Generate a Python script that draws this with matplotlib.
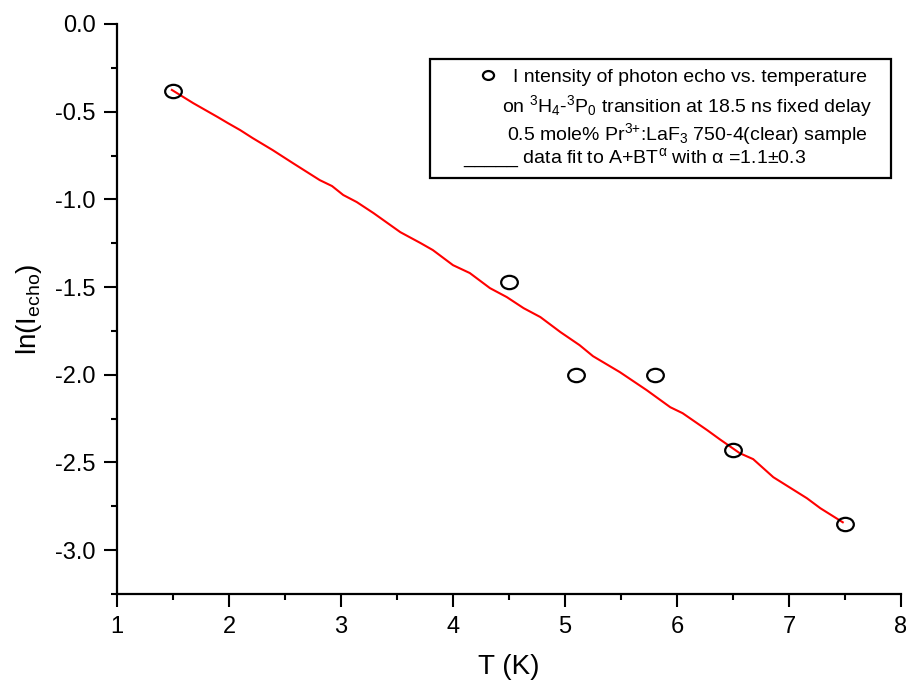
import matplotlib
matplotlib.use("Agg")
import matplotlib.pyplot as plt
from matplotlib.path import Path
from matplotlib.transforms import Affine2D
from matplotlib.ticker import MultipleLocator
from matplotlib.patches import Rectangle

plt.rcParams['font.family'] = ['Liberation Sans', 'DejaVu Sans']
plt.rcParams['mathtext.fontset'] = 'custom'
plt.rcParams['mathtext.rm'] = 'Liberation Sans'
plt.rcParams['mathtext.it'] = 'Liberation Sans:italic'
plt.rcParams['mathtext.bf'] = 'Liberation Sans:bold'

# measured data
T_data = [1.5, 4.5, 5.1, 5.8, 6.5, 7.5]
ln_echo = [-0.38, -1.47, -2.00, -2.00, -2.43, -2.85]

# fit curve
T_fit = [1.49, 1.68, 1.90, 1.99, 2.10, 2.21, 2.39, 2.57, 2.81, 2.92, 3.02, 3.14,
         3.29, 3.53, 3.71, 3.82, 4.00, 4.15, 4.33, 4.48, 4.63, 4.78, 4.96, 5.13,
         5.25, 5.49, 5.73, 5.94, 6.05, 6.27, 6.38, 6.56, 6.68, 6.86, 7.16, 7.28, 7.48]
ln_fit = [-0.376, -0.451, -0.531, -0.565, -0.605, -0.650, -0.719, -0.793, -0.890,
          -0.924, -0.975, -1.015, -1.078, -1.187, -1.249, -1.289, -1.375, -1.420,
          -1.506, -1.557, -1.620, -1.671, -1.757, -1.831, -1.894, -1.985, -2.088,
          -2.185, -2.219, -2.316, -2.367, -2.447, -2.481, -2.584, -2.704, -2.761, -2.841]

W, H = 906, 685
fig = plt.figure(figsize=(W / 100, H / 100), dpi=100)
ax = fig.add_axes([117 / W, 1 - 594 / H, (901 - 117) / W, (594 - 24) / H])

ellipse = Path.unit_circle().transformed(Affine2D().scale(1.0, 0.8))

ax.plot(T_fit, ln_fit, color='#ff0000', lw=1.5, zorder=2)
ax.plot(T_data, ln_echo, linestyle='none', marker=ellipse, markersize=12,
        mfc='none', mec='black', mew=1.6, zorder=3)

ax.set_xlim(1, 8)
ax.set_ylim(-3.25, 0)
ax.xaxis.set_major_locator(MultipleLocator(1))
ax.xaxis.set_minor_locator(MultipleLocator(0.5))
ax.yaxis.set_major_locator(MultipleLocator(0.5))
ax.yaxis.set_minor_locator(MultipleLocator(0.25))
ax.set_yticks([0.0, -0.5, -1.0, -1.5, -2.0, -2.5, -3.0])
ax.set_yticklabels(['0.0', '-0.5', '-1.0', '-1.5', '-2.0', '-2.5', '-3.0'])

for s in ['top', 'right']:
    ax.spines[s].set_visible(False)
for s in ['left', 'bottom']:
    ax.spines[s].set_linewidth(1.6)

ax.tick_params(which='major', direction='out', length=9.5, width=1.5, labelsize=17, pad=6)
ax.tick_params(which='minor', direction='out', length=4.5, width=1.5)

ax.set_xlabel('T (K)', fontsize=20, labelpad=12)
ax.set_ylabel(r'ln(I$_{\mathregular{echo}}$)', fontsize=20, labelpad=8)

def fx(px):
    return px / W

def fy(py):
    return 1 - py / H

fig.patches.append(Rectangle((fx(430), fy(178)), fx(891) - fx(430), fy(59) - fy(178),
                             transform=fig.transFigure, fill=False, lw=1.6,
                             edgecolor='black'))
fs = 14
fig.lines.append(plt.Line2D([fx(488)], [fy(75)], transform=fig.transFigure,
                            marker=ellipse, markersize=8, mfc='none', mec='black',
                            mew=1.6, linestyle='none'))
fig.text(fx(513), fy(78), 'I ntensity of photon echo vs. temperature', fontsize=fs,
         ha='left', va='center')
fig.text(fx(687), fy(106), r'on $\mathregular{^3H_4}$-$\mathregular{^3P_0}$ transition at 18.5 ns fixed delay',
         fontsize=fs, ha='center', va='center')
fig.text(fx(687), fy(134), r'0.5 mole% Pr$^{\mathregular{3{+}}}$:LaF$_{\mathregular{3}}$ 750-4(clear) sample',
         fontsize=fs, ha='center', va='center')
fig.text(fx(463), fy(158), '_____ data fit to A+BT$^{\\mathregular{α}}$ with α =1.1±0.3',
         fontsize=fs, ha='left', va='center')

fig.savefig('out.png', dpi=100)
